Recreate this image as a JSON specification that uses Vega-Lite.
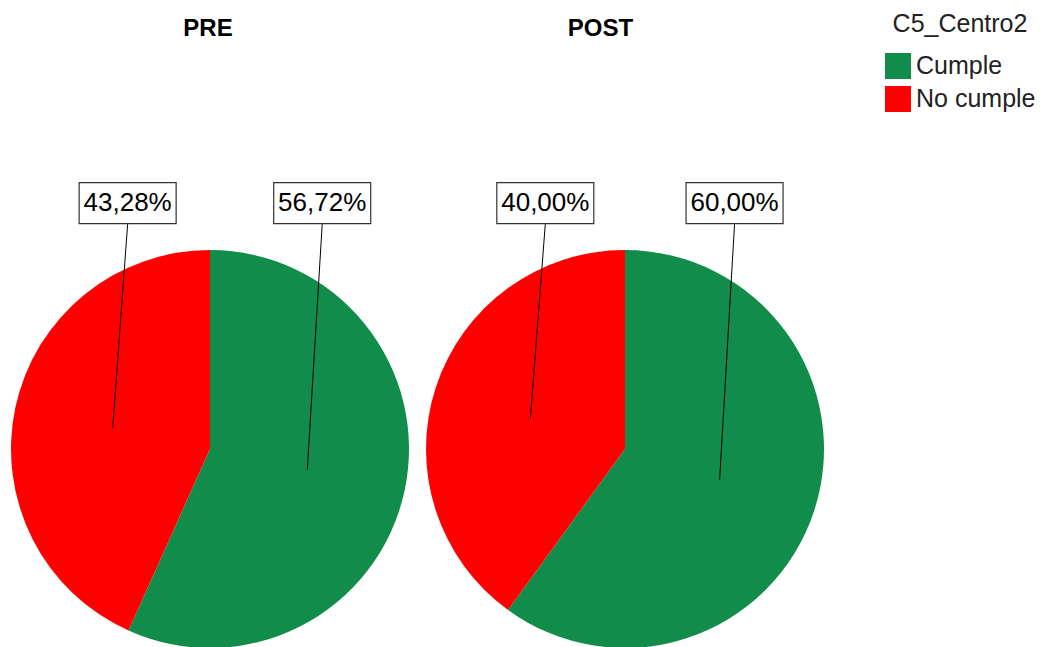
{
  "$schema": "https://vega.github.io/schema/vega-lite/v6.json",
  "background": "white",
  "padding": {"left": 0, "top": 12, "right": 0, "bottom": 0},
  "data": {
    "values": [
      {"Fase": "PRE", "Categoria": "Cumple", "Porcentaje": 56.72},
      {"Fase": "PRE", "Categoria": "No cumple", "Porcentaje": 43.28},
      {"Fase": "POST", "Categoria": "Cumple", "Porcentaje": 60.0},
      {"Fase": "POST", "Categoria": "No cumple", "Porcentaje": 40.0}
    ]
  },
  "spacing": 0,
  "hconcat": [
    {
      "title": {"text": "PRE", "fontSize": 24, "fontWeight": "bold", "color": "#000", "anchor": "middle", "offset": 4},
      "width": 416,
      "height": 600,
      "transform": [
        {"filter": "datum.Fase === 'PRE'"},
        {"stack": "Porcentaje", "groupby": ["Fase"], "sort": [{"field": "Categoria", "order": "ascending"}], "as": ["p0", "p1"]},
        {"calculate": "PI * (datum.p0 + datum.p1) / 100", "as": "ang"},
        {"calculate": "0.5 * sin(datum.ang)", "as": "ix"},
        {"calculate": "0.5 * cos(datum.ang)", "as": "iy"},
        {"calculate": "datum.ix + 0.075", "as": "lx"},
        {"calculate": "replace(format(datum.Porcentaje, '.2f'), '.', ',') + '%'", "as": "etiqueta"}
      ],
      "layer": [
        {
          "mark": {"type": "arc", "outerRadius": 199, "strokeWidth": 0},
          "encoding": {
            "x": {"datum": 0, "type": "quantitative", "scale": {"domain": [-1.0553, 1.0352], "nice": false, "zero": false}, "axis": null},
            "y": {"datum": 0, "type": "quantitative", "scale": {"domain": [-0.9849, 2.0302], "nice": false, "zero": false}, "axis": null},
            "theta": {"field": "p0", "type": "quantitative", "scale": {"domain": [0, 100]}},
            "theta2": {"field": "p1"},
            "color": {
              "field": "Categoria", "type": "nominal",
              "scale": {"domain": ["Cumple", "No cumple"], "range": ["#128C4A", "#FF0000"]},
              "legend": {
                "title": "C5_Centro2", "orient": "none", "legendX": 885, "legendY": -33,
                "titleFontSize": 25, "titleFontWeight": "normal", "titleColor": "#222", "titleAnchor": "middle", "titlePadding": 16,
                "labelFontSize": 25, "labelColor": "#222", "labelOffset": 5,
                "symbolType": "square", "symbolSize": 676, "symbolStrokeWidth": 0, "symbolOpacity": 1, "rowPadding": 7
              }
            }
          }
        },
        {
          "mark": {"type": "rule", "color": "#000", "strokeWidth": 1},
          "encoding": {
            "x": {"field": "ix", "type": "quantitative", "scale": {"domain": [-1.0553, 1.0352], "nice": false, "zero": false}, "axis": null},
            "y": {"field": "iy", "type": "quantitative", "scale": {"domain": [-0.9849, 2.0302], "nice": false, "zero": false}, "axis": null},
            "x2": {"field": "lx"},
            "y2": {"datum": 1.13}
          }
        },
        {
          "mark": {"type": "point", "shape": "M-2.366,-1H2.366V1H-2.366Z", "size": 1681, "filled": true, "fill": "#fff", "stroke": "#333", "strokeWidth": 1.2, "opacity": 1},
          "encoding": {
            "x": {"field": "lx", "type": "quantitative", "scale": {"domain": [-1.0553, 1.0352], "nice": false, "zero": false}, "axis": null},
            "y": {"datum": 1.236, "type": "quantitative", "scale": {"domain": [-0.9849, 2.0302], "nice": false, "zero": false}, "axis": null}
          }
        },
        {
          "mark": {"type": "text", "fontSize": 26, "align": "center", "baseline": "middle", "color": "#000"},
          "encoding": {
            "x": {"field": "lx", "type": "quantitative", "scale": {"domain": [-1.0553, 1.0352], "nice": false, "zero": false}, "axis": null},
            "y": {"datum": 1.236, "type": "quantitative", "scale": {"domain": [-0.9849, 2.0302], "nice": false, "zero": false}, "axis": null},
            "text": {"field": "etiqueta", "type": "nominal"}
          }
        }
      ]
    },
    {
      "title": {"text": "POST", "fontSize": 24, "fontWeight": "bold", "color": "#000", "anchor": "middle", "offset": 4},
      "width": 369,
      "height": 600,
      "transform": [
        {"filter": "datum.Fase === 'POST'"},
        {"stack": "Porcentaje", "groupby": ["Fase"], "sort": [{"field": "Categoria", "order": "ascending"}], "as": ["p0", "p1"]},
        {"calculate": "PI * (datum.p0 + datum.p1) / 100", "as": "ang"},
        {"calculate": "0.5 * sin(datum.ang)", "as": "ix"},
        {"calculate": "0.5 * cos(datum.ang)", "as": "iy"},
        {"calculate": "datum.ix + 0.075", "as": "lx"},
        {"calculate": "replace(format(datum.Porcentaje, '.2f'), '.', ',') + '%'", "as": "etiqueta"}
      ],
      "layer": [
        {
          "mark": {"type": "arc", "outerRadius": 199, "strokeWidth": 0},
          "encoding": {
            "x": {"datum": 0, "type": "quantitative", "scale": {"domain": [-1.0503, 0.804], "nice": false, "zero": false}, "axis": null},
            "y": {"datum": 0, "type": "quantitative", "scale": {"domain": [-0.9849, 2.0302], "nice": false, "zero": false}, "axis": null},
            "theta": {"field": "p0", "type": "quantitative", "scale": {"domain": [0, 100]}},
            "theta2": {"field": "p1"},
            "color": {"field": "Categoria", "type": "nominal"}
          }
        },
        {
          "mark": {"type": "rule", "color": "#000", "strokeWidth": 1},
          "encoding": {
            "x": {"field": "ix", "type": "quantitative", "scale": {"domain": [-1.0503, 0.804], "nice": false, "zero": false}, "axis": null},
            "y": {"field": "iy", "type": "quantitative", "scale": {"domain": [-0.9849, 2.0302], "nice": false, "zero": false}, "axis": null},
            "x2": {"field": "lx"},
            "y2": {"datum": 1.13}
          }
        },
        {
          "mark": {"type": "point", "shape": "M-2.366,-1H2.366V1H-2.366Z", "size": 1681, "filled": true, "fill": "#fff", "stroke": "#333", "strokeWidth": 1.2, "opacity": 1},
          "encoding": {
            "x": {"field": "lx", "type": "quantitative", "scale": {"domain": [-1.0503, 0.804], "nice": false, "zero": false}, "axis": null},
            "y": {"datum": 1.236, "type": "quantitative", "scale": {"domain": [-0.9849, 2.0302], "nice": false, "zero": false}, "axis": null}
          }
        },
        {
          "mark": {"type": "text", "fontSize": 26, "align": "center", "baseline": "middle", "color": "#000"},
          "encoding": {
            "x": {"field": "lx", "type": "quantitative", "scale": {"domain": [-1.0503, 0.804], "nice": false, "zero": false}, "axis": null},
            "y": {"datum": 1.236, "type": "quantitative", "scale": {"domain": [-0.9849, 2.0302], "nice": false, "zero": false}, "axis": null},
            "text": {"field": "etiqueta", "type": "nominal"}
          }
        }
      ]
    }
  ],
  "resolve": {"scale": {"x": "independent", "y": "independent"}},
  "config": {
    "font": "Liberation Sans",
    "view": {"stroke": null}
  }
}
